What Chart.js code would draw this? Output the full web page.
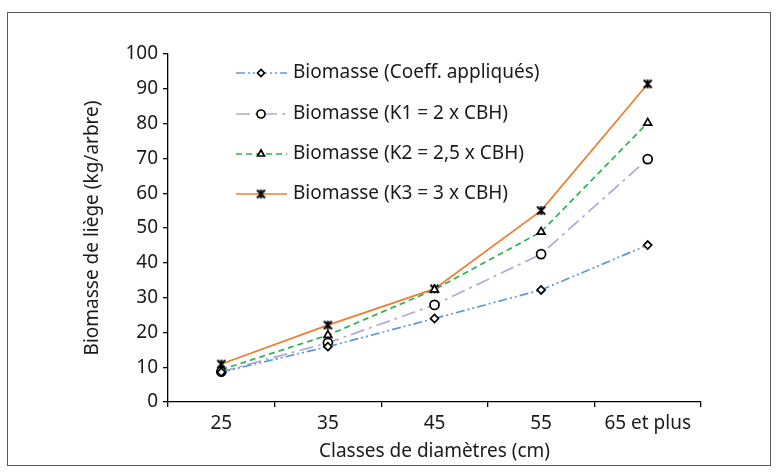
<!DOCTYPE html>
<html>
<head>
<meta charset="utf-8">
<script src="https://cdn.jsdelivr.net/npm/chart.js@4"></script>
<style>
  html, body { margin: 0; padding: 0; background: #fff; }
  #wrap { width: 779px; height: 473px; }
</style>
</head>
<body>
<div id="wrap"><canvas id="chart" width="779" height="473"></canvas></div>
<script>
'use strict';

var labels = ['25', '35', '45', '55', '65 et plus'];
var coeff = [8.6, 15.9, 24.0, 32.2, 45.1];
var k1 = [8.7, 17.0, 27.9, 42.5, 69.8];
var k2 = [9.3, 19.2, 32.3, 48.9, 80.2];
var k3 = [10.9, 22.1, 32.5, 55.0, 91.4];
var seriesNames = [
  'Biomasse (Coeff. appliqués)',
  'Biomasse (K1 = 2 x CBH)',
  'Biomasse (K2 = 2,5 x CBH)',
  'Biomasse (K3 = 3 x CBH)'
];

var font = 'Noto Sans';
var fsize = 19;

// asterisk-like marker: X with a vertical bar
function makeStar() {
  var c = document.createElement('canvas');
  c.width = 11; c.height = 11;
  var g = c.getContext('2d');
  g.strokeStyle = '#000';
  g.lineWidth = 2;
  g.beginPath();
  g.moveTo(1.5, 1.5); g.lineTo(9.5, 9.5);
  g.moveTo(9.5, 1.5); g.lineTo(1.5, 9.5);
  g.moveTo(5.5, 1); g.lineTo(5.5, 10);
  g.stroke();
  return c;
}
var star = makeStar();

function ds(label, data, color, dash, style, radius) {
  return {
    label: label,
    data: data,
    borderColor: color,
    borderWidth: 1.7,
    borderDash: dash,
    pointStyle: style,
    pointRadius: radius,
    pointBackgroundColor: '#fff',
    pointBorderColor: '#000',
    pointBorderWidth: 1.7,
    tension: 0,
    fill: false
  };
}

var frame = {
  id: 'frame',
  beforeDraw: function (chart) {
    var c = chart.ctx;
    c.save();
    c.fillStyle = '#fff';
    c.fillRect(0, 0, chart.width, chart.height);
    c.strokeStyle = '#595959';
    c.lineWidth = 1;
    c.strokeRect(7.5, 12.5, 763, 453);
    c.restore();
  }
};

var innerLegend = {
  id: 'innerLegend',
  afterDatasetsDraw: function (chart) {
    var c = chart.ctx;
    var rows = [73, 114, 154, 194];
    c.save();
    chart.data.datasets.forEach(function (d, i) {
      var y = rows[i];
      c.strokeStyle = d.borderColor;
      c.lineWidth = d.borderWidth;
      c.setLineDash(d.borderDash || []);
      c.beginPath();
      c.moveTo(236, y);
      c.lineTo(287, y);
      c.stroke();
      c.setLineDash([]);
      c.fillStyle = '#fff';
      c.strokeStyle = '#000';
      c.lineWidth = d.pointBorderWidth;
      Chart.helpers.drawPoint(c, {
        pointStyle: d.pointStyle,
        radius: d.pointRadius - 0.5,
        borderWidth: d.pointBorderWidth
      }, 261, y);
      c.fillStyle = '#1a1a1a';
      c.font = fsize + 'px "' + font + '"';
      c.textBaseline = 'middle';
      c.textAlign = 'left';
      c.fillText(d.label, 293, y);
    });
    c.restore();
  }
};

new Chart(document.getElementById('chart'), {
  type: 'line',
  data: {
    labels: labels,
    datasets: [
      ds(seriesNames[0], coeff, 'rgb(91,155,213)', [9, 3, 2, 3, 2, 3], 'rectRot', 4),
      ds(seriesNames[1], k1, 'rgb(180,167,214)', [14, 5, 3, 5], 'circle', 4.5),
      ds(seriesNames[2], k2, 'rgb(40,180,75)', [6, 4], 'triangle', 4.5),
      ds(seriesNames[3], k3, 'rgb(237,125,49)', [], star, 5.5)
    ]
  },
  options: {
    responsive: false,
    animation: false,
    layout: { padding: { left: 78, right: 78, top: 54, bottom: 6 } },
    plugins: {
      legend: { display: false },
      tooltip: { enabled: false }
    },
    scales: {
      x: {
        offset: true,
        grid: {
          offset: true,
          drawOnChartArea: false,
          drawTicks: true,
          tickLength: 5,
          color: '#000',
          lineWidth: 1.3
        },
        border: { color: '#000', width: 1.3 },
        ticks: { color: '#1a1a1a', padding: 5, font: { family: font, size: fsize } },
        title: {
          display: true,
          text: 'Classes de diamètres (cm)',
          color: '#1a1a1a',
          font: { family: font, size: fsize },
          padding: { top: 2, bottom: 4 }
        },
        afterFit: function (s) { s.height = 65; }
      },
      y: {
        min: 0,
        max: 100,
        ticks: { stepSize: 10, color: '#1a1a1a', padding: 5, font: { family: font, size: fsize } },
        grid: {
          drawOnChartArea: false,
          drawTicks: true,
          tickLength: 5,
          color: '#000',
          lineWidth: 1.3
        },
        border: { color: '#000', width: 1.3 },
        title: {
          display: true,
          text: 'Biomasse de liège (kg/arbre)',
          color: '#1a1a1a',
          font: { family: font, size: fsize },
          padding: { top: 3, bottom: 4 }
        },
        afterFit: function (s) { s.width = 90; }
      }
    }
  },
  plugins: [frame, innerLegend]
});
</script>
</body>
</html>
